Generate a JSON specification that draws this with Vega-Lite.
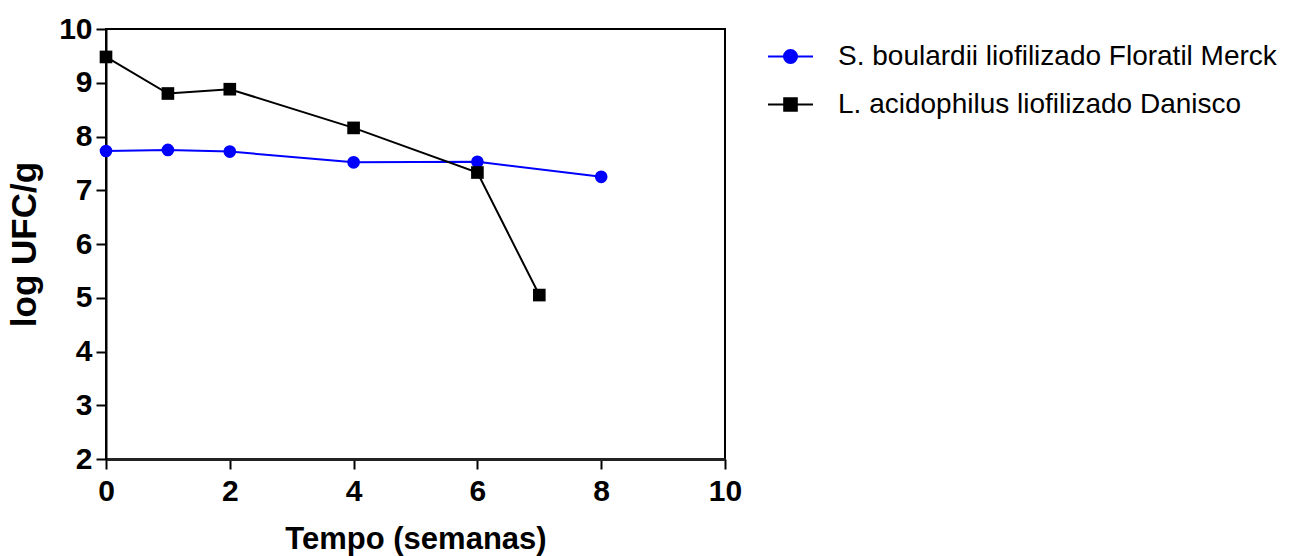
{
  "$schema": "https://vega.github.io/schema/vega-lite/v6.json",
  "width": 619,
  "height": 430,
  "autosize": "none",
  "padding": {"left": 106, "top": 29, "right": 569, "bottom": 97},
  "background": "white",
  "config": {
    "view": {"stroke": "black", "strokeWidth": 2},
    "font": "Liberation Sans"
  },
  "data": {
    "values": [
      {"serie": "S. boulardii liofilizado Floratil Merck", "tempo": 0, "log": 7.73},
      {"serie": "S. boulardii liofilizado Floratil Merck", "tempo": 1, "log": 7.75},
      {"serie": "S. boulardii liofilizado Floratil Merck", "tempo": 2, "log": 7.72},
      {"serie": "S. boulardii liofilizado Floratil Merck", "tempo": 4, "log": 7.52},
      {"serie": "S. boulardii liofilizado Floratil Merck", "tempo": 6, "log": 7.53},
      {"serie": "S. boulardii liofilizado Floratil Merck", "tempo": 8, "log": 7.25},
      {"serie": "L. acidophilus liofilizado Danisco", "tempo": 0, "log": 9.48},
      {"serie": "L. acidophilus liofilizado Danisco", "tempo": 1, "log": 8.80},
      {"serie": "L. acidophilus liofilizado Danisco", "tempo": 2, "log": 8.88},
      {"serie": "L. acidophilus liofilizado Danisco", "tempo": 4, "log": 8.16},
      {"serie": "L. acidophilus liofilizado Danisco", "tempo": 6, "log": 7.33},
      {"serie": "L. acidophilus liofilizado Danisco", "tempo": 7, "log": 5.05}
    ]
  },
  "encoding": {
    "x": {
      "field": "tempo", "type": "quantitative",
      "scale": {"domain": [0, 10], "nice": false, "zero": false},
      "axis": {
        "values": [0, 2, 4, 6, 8, 10],
        "title": "Tempo (semanas)",
        "grid": false,
        "domainColor": "#222222", "domainWidth": 3,
        "tickColor": "black", "tickWidth": 2, "tickSize": 10,
        "labelFont": "Liberation Sans", "labelFontWeight": "bold", "labelFontSize": 30, "labelColor": "black",
        "labelPadding": 7, "labelFlush": false,
        "titleFont": "Liberation Sans", "titleFontWeight": "bold", "titleFontSize": 31, "titleColor": "black",
        "titlePadding": 18
      }
    },
    "y": {
      "field": "log", "type": "quantitative",
      "scale": {"domain": [2, 10], "nice": false, "zero": false},
      "axis": {
        "values": [2, 3, 4, 5, 6, 7, 8, 9, 10],
        "title": "log UFC/g",
        "grid": false,
        "domainColor": "black", "domainWidth": 2,
        "tickColor": "black", "tickWidth": 2, "tickSize": 10,
        "labelFont": "Liberation Sans", "labelFontWeight": "bold", "labelFontSize": 30, "labelColor": "black",
        "labelPadding": 4, "labelFlush": false,
        "titleFont": "Liberation Sans", "titleFontWeight": "bold", "titleFontSize": 35, "titleColor": "black",
        "titlePadding": 16
      }
    },
    "color": {
      "field": "serie", "type": "nominal",
      "scale": {
        "domain": ["S. boulardii liofilizado Floratil Merck", "L. acidophilus liofilizado Danisco"],
        "range": ["#0000ff", "#000000"]
      },
      "legend": {
        "title": null,
        "orient": "none",
        "legendX": 661,
        "legendY": 4,
        "padding": 0,
        "rowPadding": 10,
        "symbolSize": 2025,
        "symbolStrokeWidth": 2,
        "labelFont": "Liberation Sans",
        "labelFontSize": 28,
        "labelColor": "black",
        "labelOffset": 24,
        "labelLimit": 600,
        "encode": {
          "symbols": {
            "update": {
              "shape": {"signal": "datum.value === 'L. acidophilus liofilizado Danisco' ? 'M-1,0H1M-0.28,-0.28H0.28V0.28H-0.28Z' : 'M-1,0H1M0.29,0A0.29,0.29,0,1,1,-0.29,0A0.29,0.29,0,1,1,0.29,0Z'"},
              "fill": {"signal": "datum.value === 'L. acidophilus liofilizado Danisco' ? '#000000' : '#0000ff'"},
              "stroke": {"signal": "datum.value === 'L. acidophilus liofilizado Danisco' ? '#000000' : '#0000ff'"},
              "strokeWidth": {"value": 2},
              "opacity": {"value": 1},
              "fillOpacity": {"value": 1}
            }
          }
        }
      }
    }
  },
  "layer": [
    {
      "mark": {"type": "line", "strokeWidth": 2, "clip": false}
    },
    {
      "transform": [{"filter": "datum.serie === 'S. boulardii liofilizado Floratil Merck'"}],
      "mark": {"type": "point", "shape": "circle", "filled": true, "opacity": 1, "strokeWidth": 0, "size": 160}
    },
    {
      "transform": [{"filter": "datum.serie === 'L. acidophilus liofilizado Danisco'"}],
      "mark": {"type": "point", "shape": "square", "filled": true, "opacity": 1, "strokeWidth": 0, "size": 160}
    }
  ]
}
